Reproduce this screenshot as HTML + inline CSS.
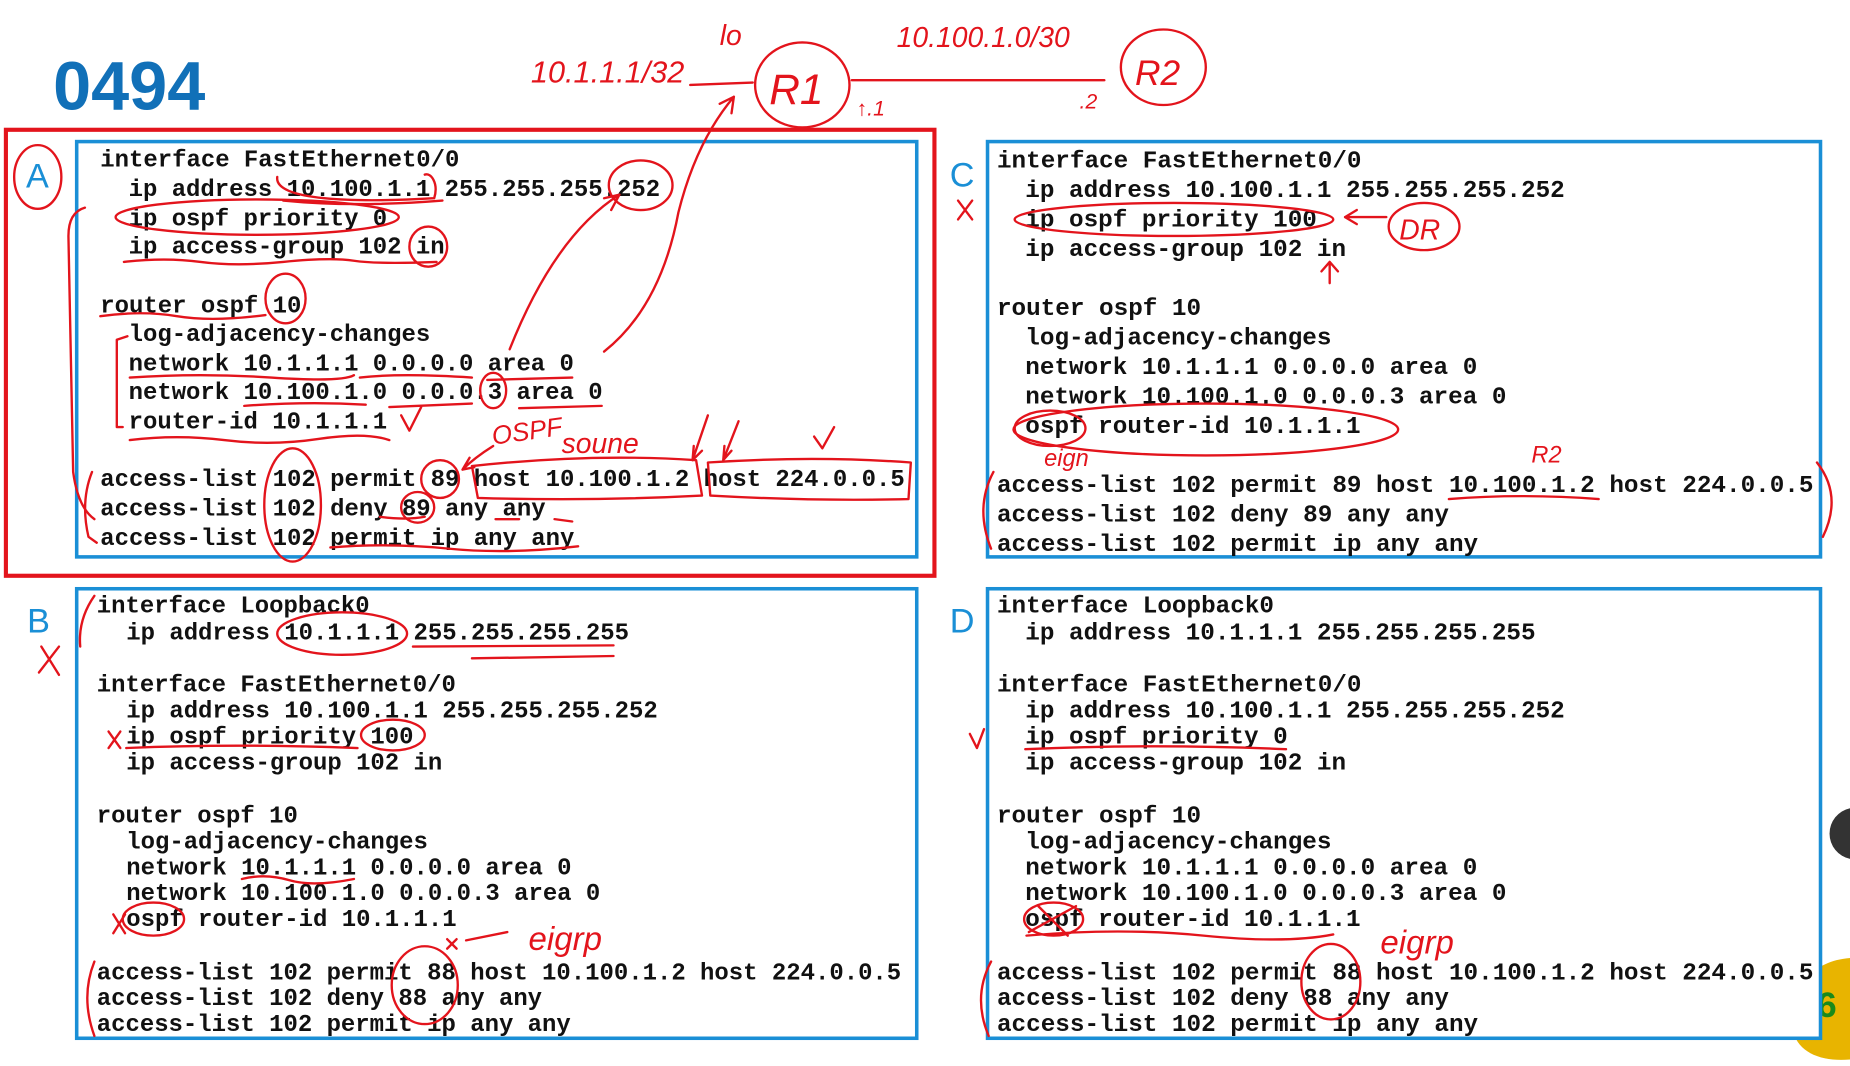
<!DOCTYPE html>
<html><head><meta charset="utf-8"><style>
html,body{margin:0;padding:0;background:#fff;}
svg{display:block;}
.m{font-family:"Liberation Mono",monospace;font-weight:bold;fill:#111;}
.a{font-size:20.3px;}
.c{font-size:20.6px;}
.b{font-size:20.3px;}
.r{fill:none;stroke:#e3141c;stroke-width:2;stroke-linecap:round;stroke-linejoin:round;}
.h{font-family:"Liberation Sans",sans-serif;fill:#e3141c;font-style:italic;}
.L{font-family:"Liberation Sans",sans-serif;fill:#1a8fd6;font-size:29px;}
</style></head><body>
<svg width="1850" height="1066" viewBox="0 0 1568 903.5" preserveAspectRatio="none" xmlns="http://www.w3.org/2000/svg">
<rect width="1568" height="904" fill="#fff"/>
<text x="45" y="93" font-family="Liberation Sans,sans-serif" font-weight="bold" font-size="58" fill="#1170b8">0494</text>

<!-- right edge decorations -->
<path d="M1568 685 A22 22 0 0 0 1568 728 Z" fill="#333"/>
<path d="M1568 812 C1530 815 1515 845 1520 875 C1525 893 1545 900 1568 898 Z" fill="#e8b400"/>
<text x="1540" y="862" font-family="Liberation Sans,sans-serif" font-weight="bold" font-size="30" fill="#1a8a1a">6</text>

<!-- boxes -->
<rect x="5" y="110" width="787" height="378" fill="none" stroke="#e3141c" stroke-width="3.5"/>
<rect x="65" y="120" width="712" height="352" fill="#fff" stroke="#1a8fd6" stroke-width="3"/>
<rect x="837" y="120" width="706" height="352" fill="#fff" stroke="#1a8fd6" stroke-width="3"/>
<rect x="65" y="499" width="712" height="381" fill="#fff" stroke="#1a8fd6" stroke-width="3"/>
<rect x="837" y="499" width="706" height="381" fill="#fff" stroke="#1a8fd6" stroke-width="3"/>
<text class="L" x="22" y="159">A</text>
<text class="L" x="805" y="158">C</text>
<text class="L" x="23" y="536">B</text>
<text class="L" x="805" y="536">D</text>

<!-- A -->
<g class="m a">
<text x="85" y="141">interface FastEthernet0/0</text>
<text x="109" y="166">ip address 10.100.1.1 255.255.255.252</text>
<text x="109" y="191">ip ospf priority 0</text>
<text x="109" y="215">ip access-group 102 in</text>
<text x="85" y="265">router ospf 10</text>
<text x="109" y="289">log-adjacency-changes</text>
<text x="109" y="314">network 10.1.1.1 0.0.0.0 area 0</text>
<text x="109" y="338">network 10.100.1.0 0.0.0.3 area 0</text>
<text x="109" y="363">router-id 10.1.1.1</text>
<text x="85" y="412">access-list 102 permit 89 host 10.100.1.2 host 224.0.0.5</text>
<text x="85" y="437">access-list 102 deny 89 any any</text>
<text x="85" y="462">access-list 102 permit ip any any</text>
</g>
<!-- C -->
<g class="m c">
<text x="845" y="142">interface FastEthernet0/0</text>
<text x="869" y="167">ip address 10.100.1.1 255.255.255.252</text>
<text x="869" y="192">ip ospf priority 100</text>
<text x="869" y="217">ip access-group 102 in</text>
<text x="845" y="267">router ospf 10</text>
<text x="869" y="292">log-adjacency-changes</text>
<text x="869" y="317">network 10.1.1.1 0.0.0.0 area 0</text>
<text x="869" y="342">network 10.100.1.0 0.0.0.3 area 0</text>
<text x="869" y="367">ospf router-id 10.1.1.1</text>
<text x="845" y="417">access-list 102 permit 89 host 10.100.1.2 host 224.0.0.5</text>
<text x="845" y="442">access-list 102 deny 89 any any</text>
<text x="845" y="467">access-list 102 permit ip any any</text>
</g>
<!-- B -->
<g class="m b">
<text x="82" y="519">interface Loopback0</text>
<text x="107" y="542">ip address 10.1.1.1 255.255.255.255</text>
<text x="82" y="586">interface FastEthernet0/0</text>
<text x="107" y="608">ip address 10.100.1.1 255.255.255.252</text>
<text x="107" y="630">ip ospf priority 100</text>
<text x="107" y="652">ip access-group 102 in</text>
<text x="82" y="697">router ospf 10</text>
<text x="107" y="719">log-adjacency-changes</text>
<text x="107" y="741">network 10.1.1.1 0.0.0.0 area 0</text>
<text x="107" y="763">network 10.100.1.0 0.0.0.3 area 0</text>
<text x="107" y="785">ospf router-id 10.1.1.1</text>
<text x="82" y="830">access-list 102 permit 88 host 10.100.1.2 host 224.0.0.5</text>
<text x="82" y="852">access-list 102 deny 88 any any</text>
<text x="82" y="874">access-list 102 permit ip any any</text>
</g>
<!-- D -->
<g class="m c">
<text x="845" y="519">interface Loopback0</text>
<text x="869" y="542">ip address 10.1.1.1 255.255.255.255</text>
<text x="845" y="586">interface FastEthernet0/0</text>
<text x="869" y="608">ip address 10.100.1.1 255.255.255.252</text>
<text x="869" y="630">ip ospf priority 0</text>
<text x="869" y="652">ip access-group 102 in</text>
<text x="845" y="697">router ospf 10</text>
<text x="869" y="719">log-adjacency-changes</text>
<text x="869" y="741">network 10.1.1.1 0.0.0.0 area 0</text>
<text x="869" y="763">network 10.100.1.0 0.0.0.3 area 0</text>
<text x="869" y="785">ospf router-id 10.1.1.1</text>
<text x="845" y="830">access-list 102 permit 88 host 10.100.1.2 host 224.0.0.5</text>
<text x="845" y="852">access-list 102 deny 88 any any</text>
<text x="845" y="874">access-list 102 permit ip any any</text>
</g>

<!-- top topology annotations -->
<g class="r">
<ellipse cx="680" cy="72" rx="40" ry="36"/>
<ellipse cx="986" cy="57" rx="36" ry="32"/>
<path d="M585 72 L638 70"/>
<path d="M722 68 L936 68"/>
</g>
<g class="h">
<text x="450" y="70" font-size="26">10.1.1.1/32</text>
<text x="610" y="38" font-size="24">lo</text>
<text x="652" y="88" font-size="36">R1</text>
<text x="760" y="40" font-size="24">10.100.1.0/30</text>
<text x="962" y="72" font-size="30">R2</text>
<text x="726" y="98" font-size="18">↑.1</text>
<text x="915" y="92" font-size="18">.2</text>
</g>

<!-- A annotations -->
<g class="r">
<ellipse cx="32" cy="150" rx="20" ry="27"/>
<path d="M235 150 C232 170 300 172 368 168 C372 155 365 146 360 148"/>
<path d="M240 170 Q300 176 375 170"/>
<ellipse cx="543" cy="157" rx="27" ry="21"/>
<ellipse cx="218" cy="184" rx="120" ry="15"/>
<path d="M105 222 Q140 218 170 222 T240 222 T300 221 T370 222"/>
<ellipse cx="363" cy="209" rx="16" ry="17"/>
<ellipse cx="242" cy="253" rx="17" ry="21"/>
<path d="M85 268 Q120 263 150 268 T225 267"/>
<path d="M108 285 L99 288 L99 362 L104 362"/>
<path d="M110 320 Q170 316 230 320 T300 318 M305 320 Q340 316 400 320 M413 322 L485 320"/>
<path d="M207 344 Q260 340 310 343 M330 345 L400 342 M440 346 L510 344"/>
<ellipse cx="418" cy="331" rx="11" ry="15"/>
<path d="M340 352 L347 365 L357 345"/>
<path d="M110 373 Q150 368 190 373 T270 372 T330 373"/>
<path d="M418 378 Q402 388 392 398 M392 398 L398 388 M392 398 L402 396"/>
<ellipse cx="248" cy="428" rx="24" ry="48"/>
<ellipse cx="373" cy="406" rx="16" ry="16"/>
<ellipse cx="354" cy="430" rx="14" ry="13"/>
<path d="M400 395 Q500 384 590 390 L595 420 Q500 425 405 422 Z"/>
<path d="M600 392 Q690 386 772 392 L770 423 Q690 425 602 420 Z"/>
<path d="M600 352 L587 390 M587 390 L588 378 M587 390 L595 382"/>
<path d="M626 357 L613 390 M613 390 L614 378 M613 390 L620 382"/>
<path d="M690 370 L697 380 L707 362"/>
<path d="M280 464 Q330 460 380 465 T490 463"/>
<path d="M322 438 Q345 441 360 438 M420 440 L440 440 M470 440 L485 442"/>
<path d="M78 400 Q68 425 75 455 L82 460"/>
<path d="M72 176 Q58 180 58 200 L62 400 Q66 430 80 440"/>
<path d="M432 296 Q470 200 525 165 M525 165 L512 168 M525 165 L518 178"/>
<path d="M512 298 Q560 260 575 180 Q590 120 622 82 M622 82 L610 88 M622 82 L620 96"/>
</g>
<g class="h">
<text x="418" y="377" font-size="22" transform="rotate(-8 418 377)">OSPF</text>
<text x="476" y="384" font-size="24">soune</text>
</g>

<!-- C annotations -->
<g class="r">
<path d="M812 170 L824 186 M824 170 L812 186"/>
<ellipse cx="995" cy="186" rx="135" ry="14"/>
<path d="M1175 184 L1140 184 M1140 184 L1150 178 M1140 184 L1150 190"/>
<ellipse cx="1207" cy="192" rx="30" ry="20"/>
<path d="M1127 240 L1127 222 M1127 222 L1120 230 M1127 222 L1134 230"/>
<ellipse cx="1022" cy="364" rx="163" ry="22"/>
<ellipse cx="890" cy="363" rx="30" ry="15"/>
<path d="M1228 423 Q1290 418 1355 423"/>
<path d="M842 400 Q826 430 840 465"/>
<path d="M1540 392 Q1562 420 1545 455"/>
</g>
<g class="h">
<text x="1186" y="203" font-size="24">DR</text>
<text x="885" y="395" font-size="20">eign</text>
<text x="1298" y="392" font-size="20">R2</text>
</g>

<!-- B annotations -->
<g class="r">
<path d="M35 548 L50 572 M50 548 L33 570"/>
<path d="M80 505 Q66 525 68 548"/>
<ellipse cx="290" cy="537" rx="55" ry="18"/>
<path d="M350 548 L520 547 M400 558 L520 556"/>
<path d="M92 620 L102 634 M102 620 L92 634"/>
<ellipse cx="333" cy="623" rx="27" ry="13"/>
<path d="M107 634 Q200 630 303 634"/>
<path d="M205 745 Q225 740 245 746 T300 745"/>
<path d="M96 775 L106 791 M106 775 L96 791"/>
<ellipse cx="130" cy="779" rx="26" ry="14"/>
<path d="M395 797 L430 790 M379 796 L387 804 M387 796 L379 804"/>
<ellipse cx="360" cy="835" rx="28" ry="33"/>
<path d="M80 815 Q68 845 80 878"/>
</g>
<text class="h" x="448" y="805" font-size="28">eigrp</text>

<!-- D annotations -->
<g class="r">
<path d="M822 622 L828 634 L834 618"/>
<path d="M869 635 Q980 630 1090 635"/>
<ellipse cx="893" cy="779" rx="25" ry="14"/>
<path d="M872 790 L912 768 M880 768 L905 793"/>
<path d="M870 793 Q950 786 1020 793 T1130 792"/>
<ellipse cx="1128" cy="832" rx="25" ry="32"/>
<path d="M840 815 Q824 845 838 878"/>
</g>
<text class="h" x="1170" y="808" font-size="28">eigrp</text>
</svg>
</body></html>
